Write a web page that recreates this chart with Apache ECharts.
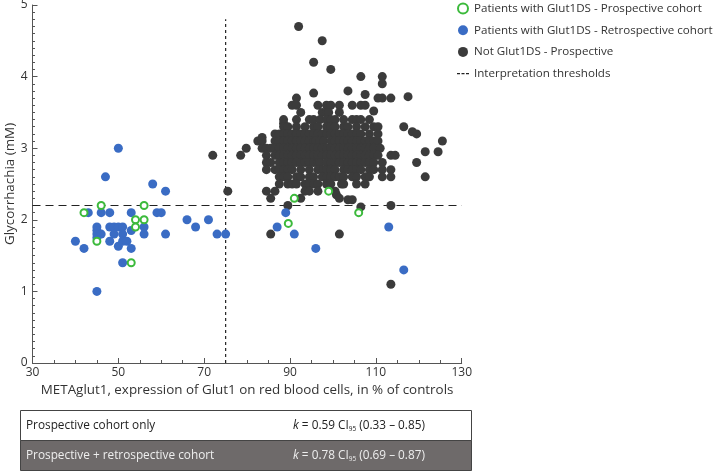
<!DOCTYPE html>
<html>
<head>
<meta charset="utf-8">
<script src="https://cdn.jsdelivr.net/npm/echarts@6/dist/echarts.min.js"></script>
<style>
  html, body { margin: 0; padding: 0; background: #fff; }
  #chart { width: 714px; height: 472px; }
</style>
</head>
<body>
<div id="chart"></div>
<script>
// METAglut1 (% of controls) vs glycorrhachia (mM)

const seriesNames = [
    'Patients with Glut1DS - Prospective cohort',
    'Patients with Glut1DS - Retrospective cohort',
    'Not Glut1DS - Prospective',
    'Interpretation thresholds'
];

// green rings
const prospectiveGlut1 = [
    [42, 2.1], [46, 2.2], [54, 2.0], [56, 2.2], [56, 2.0], [54, 1.9],
    [45, 1.7], [53, 1.4], [91, 2.3], [99, 2.4], [89.6, 1.95], [106, 2.1]
];

// blue dots
const retrospectiveGlut1 = [
    [40, 1.7], [42, 1.6], [43, 2.1], [45, 1.9], [45, 1.85], [45, 1.8], [45, 1.75], [45, 1.0],
    [46, 2.1], [46, 1.8], [47, 2.6], [48, 2.1], [48, 1.9], [48, 1.7], [49, 1.9], [49, 1.8],
    [50, 3.0], [50, 1.9], [50, 1.63], [51, 1.9], [51, 1.8], [51, 1.7], [51, 1.4], [52, 1.7],
    [53, 2.1], [53, 1.85], [53, 1.6], [56, 1.9], [56, 1.8], [58, 2.5], [59, 2.1], [60, 2.1],
    [61, 2.4], [61, 1.8], [66, 2.0], [68, 1.9], [71, 2.0], [73, 1.8], [75, 1.8], [87, 1.9],
    [89, 2.1], [91, 1.8], [96, 1.6], [113, 1.9], [116.5, 1.3]
];

// dark dots, roughly one line per glycorrhachia level
const notGlut1 = [
    [92, 4.7], [97.5, 4.5], [95.5, 4.2], [99.5, 4.1], [106.5, 4.0], [111.5, 4.0], [111.5, 3.9],
    [103.5, 3.8], [95.5, 3.77], [107.5, 3.75],
    [91.5, 3.7], [110.5, 3.7], [111.5, 3.7], [113.5, 3.7], [117.5, 3.72],
    [90.5, 3.6], [91.5, 3.6], [96.5, 3.6], [98.5, 3.6], [99.5, 3.6], [101.5, 3.6], [104.5, 3.6], [106.5, 3.6], [107.5, 3.6],
    [92.5, 3.5], [97.5, 3.5], [98.5, 3.5], [99, 3.5], [101.5, 3.5], [109.5, 3.52],
    [88.5, 3.4], [91.5, 3.4], [94.5, 3.4], [95.5, 3.4], [97, 3.4], [98.5, 3.4], [99.5, 3.4], [100.5, 3.4], [102.5, 3.4],
    [104.5, 3.4], [105.5, 3.4], [106.5, 3.4], [108.5, 3.4], [88.5, 3.35],
    [88.5, 3.3], [89.5, 3.3], [91.5, 3.3], [93.5, 3.3], [95.5, 3.3], [96.5, 3.3], [98.5, 3.3], [99.5, 3.3], [100.5, 3.3],
    [102.5, 3.3], [103.5, 3.3], [105.5, 3.3], [107.5, 3.3], [109.5, 3.3], [110.5, 3.3], [116.5, 3.3], [118.5, 3.23],
    [86.5, 3.2], [87.5, 3.2], [88.5, 3.2], [89.5, 3.2], [90.5, 3.2], [91.5, 3.2], [92.5, 3.2], [93.5, 3.2], [94.5, 3.2],
    [95.5, 3.2], [96.5, 3.2], [97.5, 3.2], [98.5, 3.2], [99.5, 3.2], [100.5, 3.2], [101.5, 3.2], [102.5, 3.2], [103.5, 3.2],
    [104.5, 3.2], [105.5, 3.2], [106.5, 3.2], [108.5, 3.2], [110.5, 3.2], [119.5, 3.2], [83.5, 3.15],
    [82.5, 3.1], [83.5, 3.1], [86.5, 3.1], [87.5, 3.1], [88.5, 3.1], [89.5, 3.1], [90.5, 3.1], [91.5, 3.1], [92.5, 3.1],
    [93.5, 3.1], [94.5, 3.1], [95.5, 3.1], [96, 3.1], [97, 3.1], [97.8, 3.1], [99.5, 3.1], [100.5, 3.1], [101.5, 3.1],
    [102.5, 3.1], [103.5, 3.1], [104.5, 3.1], [105.5, 3.1], [106.5, 3.1], [107.5, 3.1], [108.5, 3.1], [109.5, 3.1],
    [110.5, 3.1], [125.5, 3.1],
    [79.8, 3.0], [83.5, 3.0], [84.5, 3.0], [85.5, 3.0], [86.5, 3.0], [87.5, 3.0], [88.5, 3.0], [89.5, 3.0], [90.5, 3.0],
    [91.5, 3.0], [92.5, 3.0], [93.5, 3.0], [94.5, 3.0], [95.5, 3.0], [96.5, 3.0], [97.5, 3.0], [98.5, 3.0], [99.5, 3.0],
    [100.5, 3.0], [101.5, 3.0], [102.5, 3.0], [103.5, 3.0], [104.5, 3.0], [105.5, 3.0], [106.5, 3.0], [107.5, 3.0],
    [108.5, 3.0], [109.5, 3.0], [111, 3.0], [121.5, 2.95], [124.5, 2.95],
    [72, 2.9], [78.5, 2.9], [84.5, 2.9], [86.5, 2.9], [87.5, 2.9], [88.5, 2.9], [89.5, 2.9], [90.5, 2.9], [91.5, 2.9],
    [92.5, 2.9], [93.5, 2.9], [94.5, 2.9], [95.5, 2.9], [96.5, 2.9], [97.5, 2.9], [98.5, 2.9], [99.5, 2.9], [100.5, 2.9],
    [101.5, 2.9], [102.5, 2.9], [103.5, 2.9], [104.5, 2.9], [105.5, 2.9], [106.5, 2.9], [107.5, 2.9], [108.5, 2.9],
    [109.5, 2.9], [110.5, 2.9], [113.5, 2.9], [114.5, 2.9],
    [84.5, 2.8], [85.5, 2.8], [87.5, 2.8], [88.5, 2.8], [89.5, 2.8], [90.5, 2.8], [91.5, 2.8], [92.5, 2.8], [93.5, 2.8],
    [94.5, 2.8], [95.5, 2.8], [96.5, 2.8], [97, 2.8], [98.5, 2.8], [99.5, 2.8], [100.5, 2.8], [101.5, 2.8], [102.5, 2.8],
    [103.5, 2.8], [104.5, 2.8], [105.5, 2.8], [106.5, 2.8], [107.5, 2.8], [108.5, 2.8], [109.5, 2.8], [111.5, 2.8],
    [119.5, 2.8],
    [84.5, 2.7], [86.5, 2.7], [87.5, 2.7], [88.5, 2.7], [89.5, 2.7], [90.5, 2.7], [92.5, 2.7], [94.5, 2.7], [96.5, 2.7],
    [97.8, 2.7], [98.5, 2.7], [99.5, 2.7], [100.5, 2.7], [102.5, 2.7], [103.5, 2.7], [104.5, 2.7], [105.5, 2.7],
    [106.5, 2.7], [108.5, 2.7], [109.5, 2.7], [111.5, 2.7], [113.5, 2.7],
    [87.5, 2.6], [88.5, 2.6], [89.5, 2.6], [91.5, 2.6], [92.5, 2.6], [94.5, 2.6], [95.5, 2.6], [97.5, 2.6], [98.5, 2.6],
    [99.5, 2.6], [100.5, 2.6], [101.5, 2.6], [102.5, 2.6], [104.5, 2.6], [105.5, 2.6], [107.5, 2.6], [108.5, 2.6],
    [111.5, 2.6], [113.5, 2.6], [121.5, 2.6],
    [87.5, 2.5], [89.5, 2.5], [90.5, 2.5], [91.5, 2.5], [93.5, 2.5], [94.5, 2.5], [95.5, 2.5], [96.5, 2.5], [98.5, 2.5],
    [99.5, 2.5], [102, 2.5], [102.5, 2.5], [105.5, 2.5], [107.5, 2.5],
    [75.5, 2.4], [84.5, 2.4], [86.5, 2.4], [93.5, 2.4], [94.5, 2.4], [96.5, 2.4], [100.5, 2.4], [100.8, 2.35],
    [85.5, 2.3], [92.5, 2.3], [101.5, 2.3], [103.5, 2.28], [104.5, 2.28],
    [89.5, 2.2], [113.5, 2.2], [106.5, 2.18],
    [85.5, 1.8], [101.5, 1.8], [113.5, 1.1]
];

const thresholdX = 75;      // METAglut1 cut-off
const thresholdY = 2.2;     // glycorrhachia cut-off
const thresholdTopY = 4.8;

const xMin = 30, xMax = 130, xStep = 20;
const yMin = 0, yMax = 5, yStep = 1;

const tableLabels = ['Prospective cohort only', 'Prospective + retrospective cohort'];
const kappa = ['0.59', '0.78'];
const ciLow = ['0.33', '0.69'];
const ciHigh = ['0.85', '0.87'];

const FONT = '"Open Sans", "Noto Sans", sans-serif';
const AXIS_COLOR = '#555';
const INK = '#222';

const chart = echarts.init(document.getElementById('chart'), null, { renderer: 'canvas' });

function axisCommon() {
    return {
        axisLine: { show: true, lineStyle: { color: AXIS_COLOR, width: 1 } },
        axisTick: { show: true, inside: true, length: 5, lineStyle: { color: AXIS_COLOR } },
        splitLine: { show: false },
        nameMoveOverlap: false,
        nameTextStyle: { color: '#333', fontSize: 13.4, fontFamily: FONT }
    };
}

// comparison table under the plot
const tableGraphics = [];
tableLabels.forEach((label, i) => {
    const top = 410.5 + i * 30;
    const dark = i === 1;
    const txt = dark ? '#eeeeee' : INK;
    tableGraphics.push({
        type: 'rect',
        shape: { x: 20.5, y: top, width: 451, height: 30 },
        style: { fill: dark ? '#6e6a6a' : '#fff', stroke: '#444', lineWidth: 1 },
        silent: true
    });
    tableGraphics.push({
        type: 'text',
        x: 26, y: top + 15,
        style: { text: label, fill: txt, fontSize: 11.8, fontFamily: FONT, verticalAlign: 'middle' },
        silent: true
    });
    tableGraphics.push({
        type: 'text',
        x: 293, y: top + 15,
        style: {
            text: '{i|k} = ' + kappa[i] + ' CI{s|95} (' + ciLow[i] + ' – ' + ciHigh[i] + ')',
            fill: txt, fontSize: 11.8, fontFamily: FONT, verticalAlign: 'middle', lineHeight: 15,
            rich: {
                i: { fontStyle: 'italic', fontSize: 11.8, fontFamily: FONT, fill: txt, lineHeight: 15 },
                s: { fontSize: 6.5, fontFamily: FONT, fill: txt, verticalAlign: 'bottom', lineHeight: 7 }
            }
        },
        silent: true
    });
});

// dashed-line legend icon; the two lone moveTo points fix the icon box at 12x10
const dashIcon = 'path://M0,0M12,10M0,4.4h3v1.3h-3zM4.5,4.4h3v1.3h-3zM9,4.4h3v1.3h-3z';

const option = {
    animation: false,
    backgroundColor: '#fff',
    grid: { left: 32.5, right: 252.3, top: 5, bottom: 109, containLabel: false, outerBoundsMode: 'none' },
    legend: {
        orient: 'vertical',
        left: 457, top: 2, padding: 0,
        itemWidth: 12, itemHeight: 10, itemGap: 8.7,
        textStyle: { color: '#333', fontSize: 11.6, fontFamily: FONT, lineHeight: 13 },
        selectedMode: false,
        data: [
            { name: seriesNames[0] },
            { name: seriesNames[1] },
            { name: seriesNames[2] },
            { name: seriesNames[3], icon: dashIcon, itemStyle: { color: INK, borderWidth: 0 } }
        ]
    },
    xAxis: Object.assign(axisCommon(), {
        type: 'value', min: xMin, max: xMax, interval: xStep,
        name: 'METAglut1, expression of Glut1 on red blood cells, in % of controls',
        nameLocation: 'middle', nameGap: 21,
        minorTick: { show: true, splitNumber: 4, length: 3, lineStyle: { color: AXIS_COLOR } },
        axisLabel: { color: '#333', fontSize: 12, fontFamily: FONT, margin: 4 }
    }),
    yAxis: Object.assign(axisCommon(), {
        type: 'value', min: yMin, max: yMax, interval: yStep,
        name: 'Glycorrhachia (mM)',
        nameLocation: 'middle', nameGap: 16, nameRotate: 90,
        minorTick: { show: true, splitNumber: 10, length: 2.5, lineStyle: { color: AXIS_COLOR } },
        axisLabel: { color: '#333', fontSize: 12, fontFamily: FONT, margin: 5 }
    }),
    graphic: tableGraphics,
    series: [
        {
            name: seriesNames[3], type: 'line',
            data: [[thresholdX, yMin], [thresholdX, thresholdTopY]],
            symbol: 'none', silent: true, z: 1,
            itemStyle: { color: INK },
            lineStyle: { color: INK, width: 1.2, type: [3, 3] }
        },
        {
            name: seriesNames[3], type: 'line',
            data: [[xMin, thresholdY], [xMax, thresholdY]],
            symbol: 'none', silent: true, z: 1,
            itemStyle: { color: INK },
            lineStyle: { color: INK, width: 1.2, type: [8, 5] }
        },
        {
            name: seriesNames[2], type: 'scatter', data: notGlut1,
            symbol: 'circle', symbolSize: 9, z: 2,
            itemStyle: { color: '#3b3b3b', opacity: 1 }
        },
        {
            name: seriesNames[1], type: 'scatter', data: retrospectiveGlut1,
            symbol: 'circle', symbolSize: 9, z: 3,
            itemStyle: { color: '#3a6cc4', opacity: 1 }
        },
        {
            name: seriesNames[0], type: 'scatter', data: prospectiveGlut1,
            symbol: 'circle', symbolSize: 7, z: 4,
            itemStyle: { color: '#fff', borderColor: '#3cba3c', borderWidth: 2, opacity: 1 }
        }
    ]
};

chart.setOption(option);
</script>
</body>
</html>
